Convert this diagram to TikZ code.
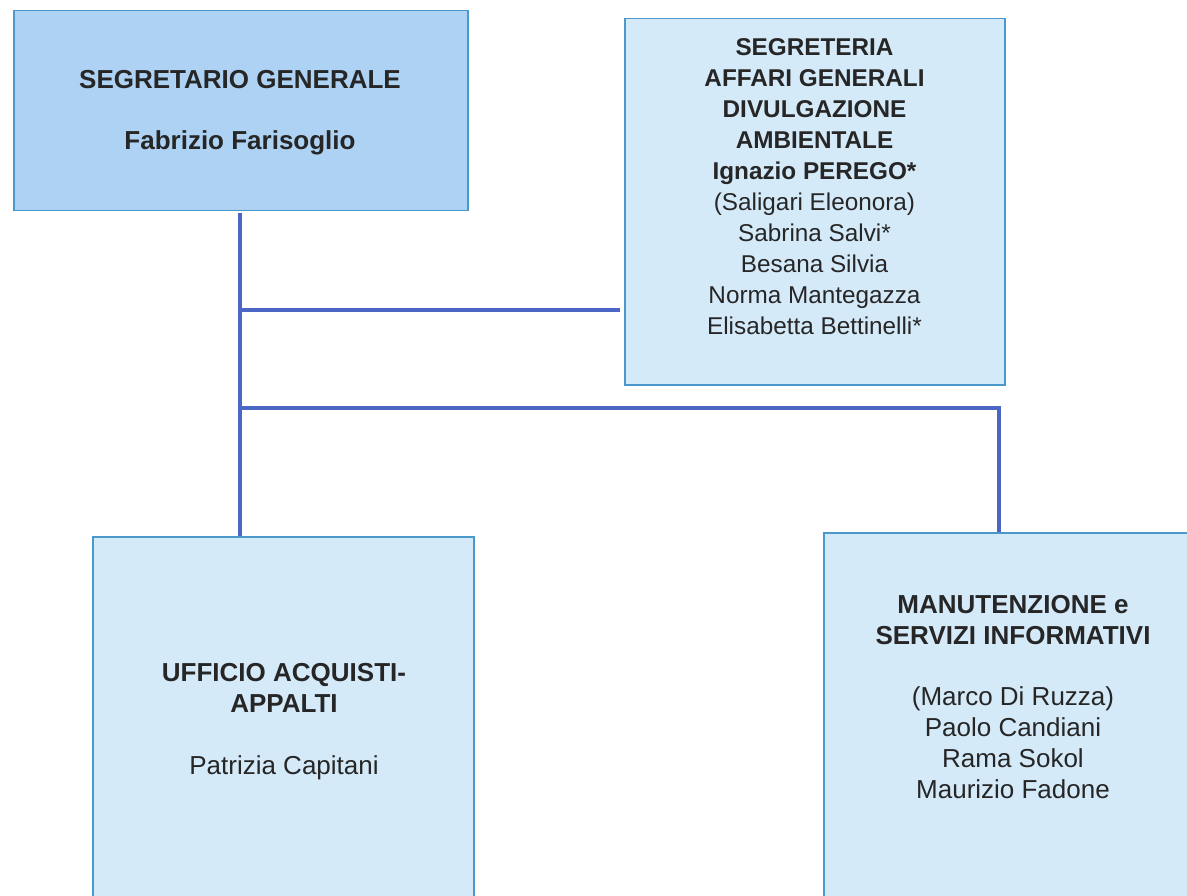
\documentclass[tikz,border=0pt]{standalone}
\usepackage{fontspec}
\setmainfont{Liberation Sans}
\definecolor{boxdark}{HTML}{ADD2F3}
\definecolor{boxlight}{HTML}{D5EAF9}
\definecolor{boxedge}{HTML}{4A98CC}
\definecolor{linkcol}{HTML}{4C66C6}
\begin{document}
\begin{tikzpicture}[x=1pt,y=-1pt,
  orgbox/.style={draw=boxedge,line width=1.5pt,rectangle,inner sep=0pt,anchor=north west},
  bigtxt/.style={font=\fontsize{26}{31}\selectfont,align=center,inner sep=0pt,text=black!85},
  smalltxt/.style={font=\fontsize{24.3}{31}\selectfont,align=center,inner sep=0pt,text=black!85},
  link/.style={draw=linkcol,line width=4.2pt}]
\fill[white] (0,0) rectangle (1187,896);
\clip (0,0) rectangle (1187,896);
% boxes
\node[orgbox,fill=boxdark,minimum width=454pt,minimum height=200pt] (sg) at (13,10) {};
\node[orgbox,fill=boxlight,minimum width=380pt,minimum height=366pt] (seg) at (624,18) {};
\node[orgbox,fill=boxlight,minimum width=381pt,minimum height=400pt] (uff) at (92,536) {};
\node[orgbox,fill=boxlight,minimum width=400pt,minimum height=400pt] (man) at (823,532) {};
% texts
\node[bigtxt,anchor=north] (tsg) at (240,70.5) {\bfseries SEGRETARIO GENERALE\\[30pt]\bfseries Fabrizio Farisoglio};
\node[smalltxt,anchor=north] (tseg) at (814.5,38) {\bfseries SEGRETERIA\\\bfseries AFFARI GENERALI\\\bfseries DIVULGAZIONE\\\bfseries AMBIENTALE\\\bfseries Ignazio PEREGO*\\(Saligari Eleonora)\\Sabrina Salvi*\\Besana Silvia\\Norma Mantegazza\\Elisabetta Bettinelli*};
\node[bigtxt,anchor=north] (tuff) at (284,663.5) {\bfseries UFFICIO ACQUISTI-\\\bfseries APPALTI\\[31pt]Patrizia Capitani};
\node[bigtxt,anchor=north] (tman) at (1013,595.5) {\bfseries MANUTENZIONE e\\\bfseries SERVIZI INFORMATIVI\\[30pt](Marco Di Ruzza)\\Paolo Candiani\\Rama Sokol\\Maurizio Fadone};
% junction points
\coordinate (top) at (240,213);
\coordinate (j1) at (240,310);
\coordinate (j2) at (240,408);
\coordinate (e1) at (620,310);
\coordinate (e2) at (999,408);
\draw[link] (top) -- (240,536);
\draw[link] (j1) -- (e1);
\draw[link] (j2) -- (e2) -- (e2 |- man.north);
\end{tikzpicture}
\end{document}
